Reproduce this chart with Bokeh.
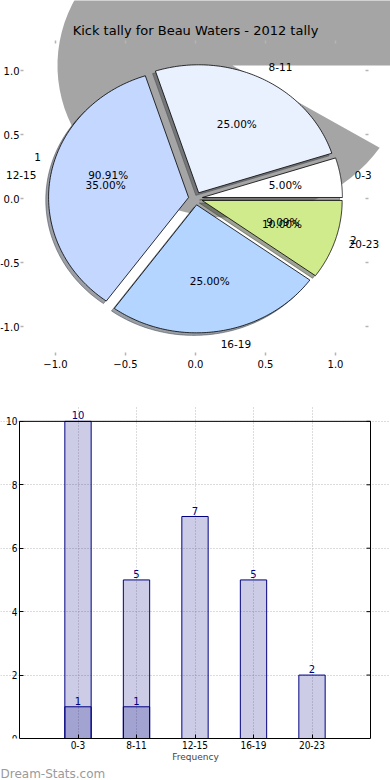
import math
from bokeh.plotting import figure
from bokeh.layouts import column
from bokeh.models import (ColumnDataSource, LabelSet, Label, FixedTicker, Range1d, Title)
from bokeh.core.properties import value
from bokeh.embed import file_html
from bokeh.resources import INLINE

# ---------------- data ----------------
categories = ["0-3", "8-11", "12-15", "16-19", "20-23"]
pie_values = [1, 5, 7, 5, 2]
pie_colors = ["#ffffff", "#e9f1ff", "#c4d8ff", "#b4d5ff", "#cfeb8c"]
pie2_labels = ["1", "2"]
pie2_values = [10, 1]
bar_totals = [10, 5, 7, 5, 2]
bar_inner = [1, 1, 0, 0, 0]
pie_ticks = [-1.0, -0.5, 0.0, 0.5, 1.0]
pie_xtick_labels = ["\u22121.0", "\u22120.5", "0.0", "0.5", "1.0"]
pie_ytick_labels = ["-1.0", "-0.5", "0.0", "0.5", "1.0"]
bar_yticks = [0, 2, 4, 6, 8, 10]
title_text = "Kick tally for Beau Waters - 2012 tally"

# ---------------- style / geometry constants ----------------
EXPLODE = 0.05
LABEL_DIST = 1.1
PCT_DIST = 0.6
SHADOW_OFF = (-0.02, -0.02)
SHADOW2_CENTER = (0.264, 1.039)
SHADOW2_RADII = (1.25, 1.19)
FONT = "DejaVu Sans"
NARROW = "Liberation Sans Narrow, DejaVu Sans Condensed, sans-serif"

W = 390
H1 = 390
PXX, PXY = 140.0, 128.0          # pixels per data unit of the pie axes
CX_PX, CY_PX = 195.0, 198.0      # pixel position of data origin in figure
FRAME_B1 = 355
AX_LEFT = (20 - CX_PX) / PXX     # matplotlib axes box
AX_RIGHT = (368 - CX_PX) / PXX
AX_TOP = (CY_PX - 40) / PXY


def pie_geometry(values):
    total = float(sum(values))
    out, a = [], 0.0
    for v in values:
        a0, a1 = a, a + 360.0 * v / total
        mid = math.radians((a0 + a1) / 2.0)
        out.append(dict(a0=a0, a1=a1, mid=mid, frac=v / total,
                        cx=EXPLODE * math.cos(mid), cy=EXPLODE * math.sin(mid)))
        a = a1
    return out


def wedge(cx, cy, rx, ry, a0, a1, n=90):
    xs, ys = [cx], [cy]
    for i in range(n + 1):
        t = math.radians(a0 + (a1 - a0) * i / n)
        xs.append(cx + rx * math.cos(t))
        ys.append(cy + ry * math.sin(t))
    return xs, ys


def dark(hexc, f=0.3):
    r, g, b = (int(hexc[i:i + 2], 16) for i in (1, 3, 5))
    return "#%02x%02x%02x" % (int(r * f), int(g * f), int(b * f))


# ---------------- pie figure ----------------
x0 = (0 - CX_PX) / PXX
x1 = (W - CX_PX) / PXX
y1 = CY_PX / PXY
y0 = (CY_PX - FRAME_B1) / PXY

p1 = figure(width=W, height=H1, x_range=Range1d(x0, x1), y_range=Range1d(y0, y1),
            output_backend="svg", toolbar_location=None,
            min_border_left=0, min_border_right=0, min_border_top=0,
            min_border_bottom=H1 - FRAME_B1)
p1.outline_line_color = None
p1.grid.visible = False
p1.background_fill_color = "white"
p1.border_fill_color = "white"

geo = pie_geometry(pie_values)
geo2 = pie_geometry(pie2_values)

# big displaced shadow of the second pie's first slice
sx, sy = wedge(SHADOW2_CENTER[0], SHADOW2_CENTER[1], SHADOW2_RADII[0], SHADOW2_RADII[1],
               geo2[0]["a0"], geo2[0]["a1"])
p1.patch(sx, sy, fill_color=dark("#ffffff"), fill_alpha=0.5, line_color=None)

# shadows of main pie
sh_xs, sh_ys, sh_col = [], [], []
for g, c in zip(geo, pie_colors):
    xs, ys = wedge(g["cx"] + SHADOW_OFF[0], g["cy"] + SHADOW_OFF[1], 1.0, 1.0, g["a0"], g["a1"])
    sh_xs.append(xs); sh_ys.append(ys); sh_col.append(dark(c))
p1.patches(xs="xs", ys="ys", source=ColumnDataSource(dict(xs=sh_xs, ys=sh_ys, c=sh_col)),
           fill_color="c", fill_alpha=0.5, line_color="c", line_alpha=0.5)

# main pie slices
pxs, pys = [], []
for g in geo:
    xs, ys = wedge(g["cx"], g["cy"], 1.0, 1.0, g["a0"], g["a1"])
    pxs.append(xs); pys.append(ys)
p1.patches(xs="xs", ys="ys", source=ColumnDataSource(dict(xs=pxs, ys=pys, c=pie_colors)),
           fill_color="c", line_color="black", line_width=0.8)

# axes
for ax in (p1.xaxis, p1.yaxis):
    ax.ticker = FixedTicker(ticks=pie_ticks)
    ax.axis_line_color = None
    ax.major_tick_in = 3
    ax.major_tick_out = 0
    ax.major_tick_line_color = "#b5b5b5"
    ax.major_tick_line_width = 1.5
    ax.minor_tick_line_color = None
    ax.major_label_text_font = FONT
    ax.major_label_text_font_size = "10px"
    ax.major_label_text_color = "black"
p1.xaxis.major_label_overrides = {t: l for t, l in zip(pie_ticks, pie_xtick_labels)}
p1.yaxis.major_label_overrides = {t: l for t, l in zip(pie_ticks, pie_ytick_labels)}
p1.xaxis.major_label_standoff = 4
p1.yaxis.major_label_standoff = 1
p1.yaxis.fixed_location = AX_LEFT

# top and right tick marks (matplotlib-style box ticks)
p1.segment(x0=pie_ticks, y0=[AX_TOP] * 5, x1=pie_ticks, y1=[AX_TOP - 3 / PXY] * 5,
           line_color="#b5b5b5", line_width=1.5)
p1.segment(x0=[AX_RIGHT] * 5, y0=pie_ticks, x1=[AX_RIGHT - 3 / PXX] * 5, y1=pie_ticks,
           line_color="#b5b5b5", line_width=1.5)


def add_labels(geom, names):
    left = dict(x=[], y=[], t=[])
    rightd = dict(x=[], y=[], t=[])
    pct = dict(x=[], y=[], t=[])
    for g, n in zip(geom, names):
        lx = g["cx"] + LABEL_DIST * math.cos(g["mid"])
        ly = g["cy"] + LABEL_DIST * math.sin(g["mid"])
        d = left if lx > 0 else rightd
        d["x"].append(lx); d["y"].append(ly); d["t"].append(n)
        pct["x"].append(g["cx"] + PCT_DIST * math.cos(g["mid"]))
        pct["y"].append(g["cy"] + PCT_DIST * math.sin(g["mid"]))
        pct["t"].append("%.2f%%" % (100 * g["frac"]))
    for d, al in ((left, "left"), (rightd, "right"), (pct, "center")):
        p1.add_layout(LabelSet(x="x", y="y", text="t", source=ColumnDataSource(d),
                               text_align=al, text_baseline="middle",
                               text_font=value(FONT), text_font_size="10.5px",
                               text_color="black"))


add_labels(geo2, pie2_labels)
add_labels(geo, categories)

p1.add_layout(Label(x=0, y=(CY_PX - 30) / PXY, text=title_text, text_align="center",
                    text_baseline="middle", text_font=FONT, text_font_size="13px",
                    text_color="black"))

# ---------------- bar figure ----------------
H2 = 390
BAR_TOP = 10
BAR_LEFT, BAR_RIGHT = -1, 5
BPX = 58.5                        # pixels per category step
xpos = list(range(len(categories)))
p2 = figure(width=W, height=H2,
            x_range=Range1d(BAR_LEFT - 19 / BPX, BAR_RIGHT + 20 / BPX),
            y_range=Range1d(0, 10.5),
            output_backend="svg", toolbar_location=None,
            min_border_left=0, min_border_right=0, min_border_top=15, min_border_bottom=40)
p2.outline_line_color = None
p2.background_fill_color = "white"
p2.border_fill_color = "white"

p2.xgrid.ticker = FixedTicker(ticks=xpos)
p2.ygrid.ticker = FixedTicker(ticks=bar_yticks)
p2.xgrid.bounds = (0, BAR_TOP)
p2.ygrid.bounds = (BAR_LEFT, BAR_RIGHT)
for gr in (p2.xgrid, p2.ygrid):
    gr.grid_line_color = "#b8b8b8"
    gr.grid_line_dash = "1 2"
    gr.grid_line_width = 1

p2.vbar(x=xpos, top=bar_totals, width=0.45, fill_color="navy", fill_alpha=0.2,
        line_color="navy", line_width=1)
inner_x = [x for x, v in zip(xpos, bar_inner) if v > 0]
inner_v = [v for v in bar_inner if v > 0]
p2.vbar(x=inner_x, top=inner_v, width=0.45, fill_color="navy", fill_alpha=0.2,
        line_color="navy", line_width=1)

for xs_, vs_ in ((xpos, bar_totals), (inner_x, inner_v)):
    p2.add_layout(LabelSet(x="x", y="y", text="t",
                           source=ColumnDataSource(dict(x=xs_, y=vs_, t=[str(v) for v in vs_])),
                           text_align="center", text_baseline="bottom", y_offset=2,
                           text_font=value(FONT), text_font_size="10px", text_color="navy"))

# top and right spines with inward ticks
p2.segment(x0=[BAR_LEFT], y0=[BAR_TOP], x1=[BAR_RIGHT], y1=[BAR_TOP], line_color="black", line_width=1)
p2.segment(x0=[BAR_RIGHT], y0=[0], x1=[BAR_RIGHT], y1=[BAR_TOP], line_color="black", line_width=1)
p2.segment(x0=[BAR_RIGHT] * len(bar_yticks), y0=bar_yticks,
           x1=[BAR_RIGHT - 4 / BPX] * len(bar_yticks), y1=bar_yticks,
           line_color="black", line_width=1)

p2.xaxis.ticker = FixedTicker(ticks=xpos)
p2.xaxis.major_label_overrides = {x: c for x, c in zip(xpos, categories)}
p2.yaxis.ticker = FixedTicker(ticks=bar_yticks)
for ax in (p2.xaxis, p2.yaxis):
    ax.axis_line_color = "black"
    ax.major_tick_in = 4
    ax.major_tick_out = 0
    ax.major_tick_line_color = "black"
    ax.minor_tick_line_color = None
    ax.major_label_text_font = NARROW
    ax.major_label_text_font_size = "10px"
    ax.major_label_text_color = "black"
p2.yaxis.fixed_location = BAR_LEFT
p2.yaxis.bounds = (0, BAR_TOP)
p2.xaxis.bounds = (BAR_LEFT, BAR_RIGHT)
p2.xaxis.major_label_standoff = 2
p2.yaxis.major_label_standoff = 2
p2.xaxis.axis_label = "Frequency"
p2.xaxis.axis_label_text_font = FONT
p2.xaxis.axis_label_text_font_size = "9px"
p2.xaxis.axis_label_text_font_style = "normal"
p2.xaxis.axis_label_standoff = 0

p2.add_layout(Title(text="Dream-Stats.com", align="left", offset=0, standoff=0,
                    text_font=FONT, text_font_size="12px", text_font_style="normal",
                    text_color="#9a9a9a", text_line_height=1.0), "below")

layout = column(p1, p2, spacing=0)
open("out.html", "w").write(file_html(layout, INLINE))
